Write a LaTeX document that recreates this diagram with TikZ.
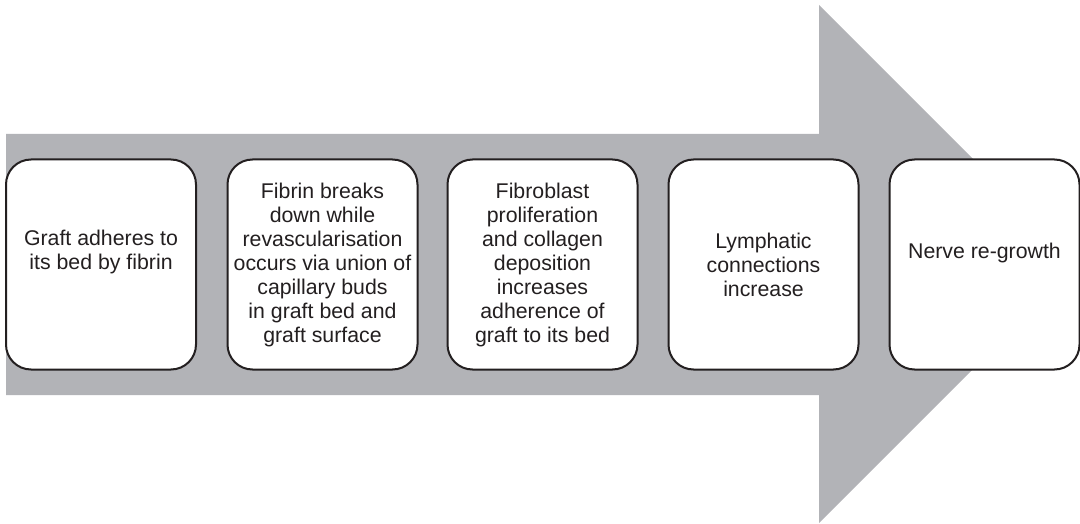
\documentclass[tikz,border=0pt]{standalone}
\usepackage{fontspec}
\setmainfont{Liberation Sans}
\definecolor{arrowgray}{RGB}{178,179,183}
\definecolor{boxline}{RGB}{35,31,32}
\definecolor{txt}{RGB}{35,31,32}
\begin{document}
\begin{tikzpicture}[x=1pt,y=-1pt,
  stage/.style={rectangle, rounded corners=25pt, draw=boxline, line width=2pt, fill=white,
    minimum width=190pt, minimum height=210pt, inner sep=2pt, align=center, text=txt,
    font=\fontsize{21.3}{24}\selectfont}]
\useasboundingbox (0,0) rectangle (1080,524);
\fill[arrowgray] (6,134) -- (819,134) -- (819,5) -- (1078,264) -- (819,523) -- (819,395) -- (6,395) -- cycle;
\node[stage] (s1) at (101,264.5) {Graft adheres to\\its bed by fibrin\\[6pt]};
\node[stage] (s2) at (322.5,264.5) {Fibrin breaks\\down while\\revascularisation\\occurs via union of\\capillary buds\\in graft bed and\\graft surface};
\node[stage] (s3) at (542.5,264.5) {Fibroblast\\proliferation\\and collagen\\deposition\\increases\\adherence of\\graft to its bed};
\node[stage] (s4) at (763.5,264.5) {Lymphatic\\connections\\increase};
\node[stage] (s5) at (984.5,264.5) {Nerve re-growth\\[4pt]};
\end{tikzpicture}
\end{document}
